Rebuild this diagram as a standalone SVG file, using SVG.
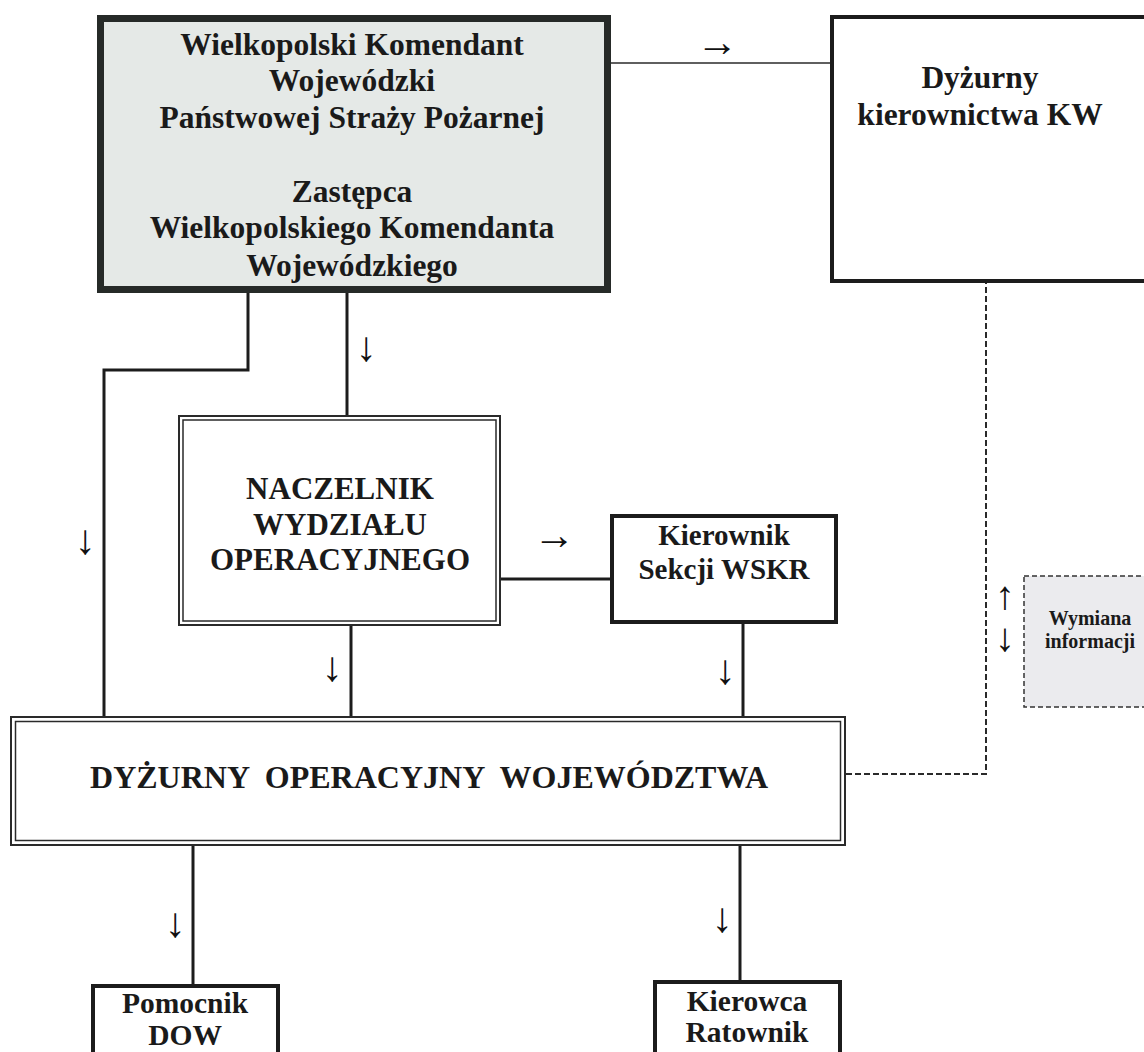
<svg xmlns="http://www.w3.org/2000/svg" width="1144" height="1052" viewBox="0 0 1144 1052">
<style>
.t { font-family: "Liberation Serif", "Times New Roman", serif; font-weight: bold; fill: #1a1a1a; text-anchor: middle; }
.arr { font-family: "Liberation Serif", "DejaVu Serif", serif; font-size: 42px; fill: #111; text-anchor: middle; }
.ln { stroke: #1c1c1c; stroke-width: 3; fill: none; }
.thin { stroke: #2a2a2a; stroke-width: 1.5; fill: none; }
.dash { stroke: #2a2a2a; stroke-width: 2; stroke-dasharray: 6 3; fill: none; }
.box { fill: #fff; stroke: #1c1c1c; stroke-width: 4; }
.dblo { fill: #fff; stroke: #2a2a2a; stroke-width: 2; }
.dbli { fill: none; stroke: #2a2a2a; stroke-width: 1.5; }
</style>
<rect width="1144" height="1052" fill="#fff"/>
<g id="connectors">
  <line class="thin" x1="611" y1="63" x2="830" y2="63"/>
  <polyline class="ln" points="248,293 248,370 104,370 104,716"/>
  <line class="ln" x1="347" y1="293" x2="347" y2="416"/>
  <line class="ln" x1="501" y1="579" x2="610" y2="579"/>
  <line class="ln" x1="351" y1="626" x2="351" y2="716"/>
  <line class="ln" x1="743" y1="624" x2="743" y2="716"/>
  <line class="ln" x1="193" y1="845" x2="193" y2="984"/>
  <line class="ln" x1="740" y1="845" x2="740" y2="980"/>
  <polyline class="dash" points="846,774 986,774 986,283"/>
  <text class="arr" x="717" y="56">→</text>
  <text class="arr" x="366" y="361">↓</text>
  <text class="arr" x="85" y="554">↓</text>
  <text class="arr" x="554" y="549">→</text>
  <text class="arr" x="332" y="681">↓</text>
  <text class="arr" x="725" y="684">↓</text>
  <text class="arr" x="175" y="937">↓</text>
  <text class="arr" x="722" y="932">↓</text>
  <text class="arr" x="1005" y="609" style="font-size:40px">↑</text>
  <text class="arr" x="1005" y="651" style="font-size:40px">↓</text>
</g>
<g id="komendant">
  <rect x="100.5" y="18.5" width="507" height="271" fill="#e5e9e7" stroke="#262a28" stroke-width="7"/>
  <text class="t" font-size="31.5" x="352" y="55">Wielkopolski Komendant</text>
  <text class="t" font-size="31.5" x="352" y="91">Wojewódzki</text>
  <text class="t" font-size="31.5" x="352" y="128">Państwowej Straży Pożarnej</text>
  <text class="t" font-size="31.5" x="352" y="202">Zastępca</text>
  <text class="t" font-size="31.5" x="352" y="238">Wielkopolskiego Komendanta</text>
  <text class="t" font-size="31.5" x="352" y="276">Wojewódzkiego</text>
</g>
<g id="dyzurny-kw">
  <rect class="box" x="832" y="17" width="330" height="264"/>
  <text class="t" font-size="31.5" x="980" y="88">Dyżurny</text>
  <text class="t" font-size="31.5" x="980" y="125">kierownictwa KW</text>
</g>
<g id="naczelnik">
  <rect class="dblo" x="179" y="416" width="321" height="209"/>
  <rect class="dbli" x="183" y="420" width="313" height="201"/>
  <text class="t" font-size="31" x="340" y="499">NACZELNIK</text>
  <text class="t" font-size="31" x="340" y="535">WYDZIAŁU</text>
  <text class="t" font-size="31" x="340" y="570">OPERACYJNEGO</text>
</g>
<g id="kierownik-wskr">
  <rect class="box" x="612" y="516" width="224" height="106"/>
  <text class="t" font-size="29" x="724" y="545">Kierownik</text>
  <text class="t" font-size="29" x="724" y="579">Sekcji WSKR</text>
</g>
<g id="wymiana">
  <rect x="1024" y="576" width="140" height="131" fill="#ebebee" stroke="#333" stroke-width="1.5" stroke-dasharray="5 3"/>
  <text class="t" font-size="20" x="1090" y="625">Wymiana</text>
  <text class="t" font-size="20" x="1090" y="648">informacji</text>
</g>
<g id="dow">
  <rect class="dblo" x="11" y="717" width="834" height="128"/>
  <rect class="dbli" x="15.5" y="721.5" width="825" height="119"/>
  <text class="t" font-size="32" x="429" y="788" xml:space="preserve">DYŻURNY  OPERACYJNY  WOJEWÓDZTWA</text>
</g>
<g id="pomocnik">
  <rect class="box" x="93" y="986" width="185" height="90"/>
  <text class="t" font-size="29.5" x="185" y="1013">Pomocnik</text>
  <text class="t" font-size="29.5" x="185" y="1045">DOW</text>
</g>
<g id="kierowca">
  <rect class="box" x="655" y="982" width="185" height="94"/>
  <text class="t" font-size="29.5" x="747" y="1011">Kierowca</text>
  <text class="t" font-size="29.5" x="747" y="1042">Ratownik</text>
</g>
</svg>
